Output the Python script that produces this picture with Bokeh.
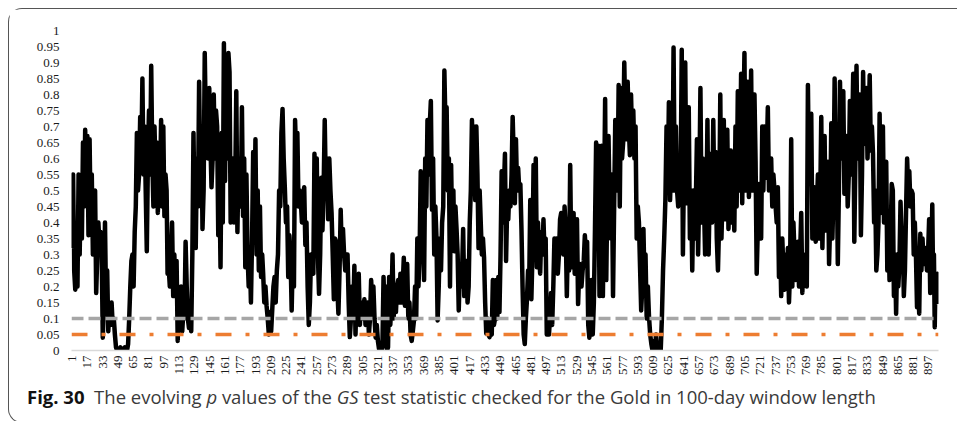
import numpy as np
from bokeh.plotting import figure
from bokeh.models import Span, FixedTicker, Div
from bokeh.layouts import column
from bokeh.embed import file_html
from bokeh.resources import INLINE

# ---- data: p values, grouped in blocks of days ----
block_start_days = [1, 101, 201, 301, 401, 501, 601, 701, 801, 901]
block_end_days = [100, 200, 300, 400, 500, 600, 700, 800, 900, 907]

p_days_001_100 = [0.32,0.55,0.25, 0.19,0.3,0.2, 0.55,0.3,0.52, 0.35,0.65,0.45, 0.69,0.55,0.67, 0.36,0.66,0.4,
    0.55,0.3,0.45, 0.5,0.18,0.3, 0.4,0.33,0.37, 0.3,0.04,0.15, 0.4,0.14,0.25, 0.06,0.14,0.08, 0.15,0.08,0.1,
    0.05,0.01,0.0, 0.0,0.0,0.01,0.0,0.0,0.0,0.01,0.0,0.0,0.02, 0.1,0.2,0.28, 0.3,0.2,0.37, 0.45,0.68,0.5,
    0.55,0.73,0.6, 0.85,0.55, 0.7,0.5, 0.31,0.6,0.75, 0.55,0.89,0.6, 0.45,0.7,0.55, 0.65,0.43,0.55,
    0.5,0.72,0.45, 0.7,0.42,0.55,0.5]
p_days_101_200 = [0.24, 0.26,0.2,0.3, 0.4,0.17,0.3,0.2, 0.28,0.03,0.15, 0.1,0.2,0.06,0.12, 0.1,0.34,0.2,
    0.1,0.07,0.12,0.06, 0.3,0.68,0.4, 0.32,0.6,0.45, 0.84,0.55,0.7, 0.38,0.5, 0.93,0.7,0.8, 0.6,0.82,0.65,
    0.51,0.6, 0.8,0.6,0.75, 0.7,0.36,0.55, 0.26,0.68,0.4, 0.96, 0.53,0.88,0.6,0.93, 0.87,0.4,0.6, 0.6,0.4,0.5,
    0.81,0.37,0.6, 0.5,0.45, 0.76,0.42,0.6, 0.26,0.55,0.3, 0.2,0.3,0.15, 0.35,0.62,0.4,0.66, 0.3,0.5,0.25,
    0.45,0.23,0.3]
p_days_201_300 = [0.24,0.15,0.2,0.14, 0.1,0.05,0.12, 0.06,0.13,0.2, 0.23,0.15,0.25, 0.3,0.5,0.45, 0.68,0.755,0.6,
    0.51,0.4,0.45, 0.23,0.36,0.3, 0.125,0.3,0.2, 0.72,0.6,0.68, 0.45,0.5,0.47, 0.4,0.48, 0.51,0.33,0.4,
    0.2,0.08,0.15, 0.3,0.25, 0.24,0.615,0.4, 0.6,0.3,0.177, 0.3,0.54,0.375,0.5, 0.72,0.5,0.6, 0.41,0.6,0.5,
    0.43,0.3,0.16,0.35, 0.34,0.2,0.115,0.25, 0.44,0.3,0.38, 0.3,0.25,0.3, 0.3,0.15,0.042,0.1, 0.2,0.12,
    0.265,0.05,0.2,0.1]
p_days_301_400 = [0.24,0.08,0.15, 0.1,0.12, 0.16,0.08,0.12, 0.15,0.05,0.1, 0.22,0.15,0.2, 0.1,0.04,0.08,0.03,
    0.005,0.02,0.0,0.01, 0.23,0.1,0.2, 0.0,0.01, 0.23,0.08,0.15, 0.3,0.1,0.2,0.12, 0.2,0.22,0.15,
    0.24,0.15,0.2,0.29, 0.14,0.2, 0.27,0.1,0.15, 0.05,0.03,0.06, 0.094,0.2,0.1, 0.35,0.2,0.3, 0.56,0.3,0.4,
    0.22,0.6,0.45, 0.72,0.55,0.7, 0.78,0.44,0.6, 0.3,0.45,0.35, 0.094,0.2, 0.35,0.25,0.4, 0.45,0.875,0.7,
    0.76,0.5,0.6, 0.2, 0.58,0.35,0.5]
p_days_401_500 = [0.31,0.45,0.38,0.3, 0.125, 0.25,0.2,0.24, 0.38,0.17,0.25, 0.28,0.15,0.2, 0.4,0.5, 0.72,0.6,0.7,
    0.47,0.7,0.55, 0.32,0.5,0.4, 0.3,0.35, 0.29,0.15,0.053,0.1, 0.05,0.042,0.06,0.05, 0.22,0.08,0.1, 0.22,0.1,
    0.23,0.12,0.3, 0.56,0.4,0.5, 0.615,0.28,0.45, 0.41,0.5,0.45, 0.55,0.73,0.6, 0.46,0.66,0.5, 0.57,0.5,0.52,
    0.38,0.2,0.05, 0.02,0.1, 0.16,0.25,0.2, 0.47,0.16,0.3, 0.58,0.45,0.6, 0.26,0.4,0.3, 0.24,0.37,0.3,
    0.41,0.3,0.35, 0.05,0.1,0.05]
p_days_501_600 = [0.1,0.18,0.08, 0.2,0.35,0.28, 0.35,0.24,0.3, 0.41,0.43,0.35, 0.3,0.45,0.38, 0.17,0.36,0.25,
    0.58,0.26,0.4, 0.43,0.24,0.35, 0.41,0.145,0.25, 0.27,0.2,0.25, 0.28,0.36,0.3,0.34, 0.08,0.04,0.1,
    0.22,0.05,0.15, 0.38,0.65,0.5, 0.64,0.17,0.4, 0.64,0.17,0.45, 0.786,0.22,0.5, 0.67,0.45,0.35,0.55,
    0.17,0.45,0.72, 0.64,0.5,0.83, 0.45,0.82,0.6, 0.65,0.9,0.7, 0.66,0.84,0.7, 0.61,0.8,0.65, 0.75,0.6,0.7,
    0.35,0.45,0.4, 0.26,0.125,0.2, 0.38,0.2]
p_days_601_700 = [0.3,0.1,0.2, 0.104,0.05,0.02, 0.0,0.03,0.0,0.05, 0.005,0.0,0.01,0.0, 0.1,0.25,0.35,0.47,
    0.7,0.5,0.776, 0.47,0.6,0.5, 0.947,0.5,0.7, 0.5,0.45,0.55,0.5, 0.94,0.3,0.6, 0.9,0.46,0.6, 0.76,0.35,0.5,
    0.25,0.5,0.35,0.45, 0.66,0.3,0.5, 0.82,0.4,0.6, 0.47,0.3,0.4, 0.72,0.3,0.5, 0.615,0.4,0.72,0.45,
    0.62,0.35,0.25,0.4, 0.8,0.35,0.5, 0.72,0.41,0.6, 0.69,0.38,0.5, 0.625,0.4,0.5, 0.375,0.7,0.45, 0.81,0.5,0.6]
p_days_701_800 = [0.865,0.46,0.7, 0.93,0.5,0.7, 0.84,0.48,0.6, 0.875,0.5,0.7, 0.8,0.59,0.24, 0.38,0.52,0.4,
    0.35,0.7,0.5, 0.7,0.54,0.6, 0.76,0.5,0.6, 0.6,0.45,0.55, 0.5,0.45,0.4, 0.51,0.23,0.35, 0.17,0.35,0.25,
    0.19,0.3,0.2, 0.32,0.15,0.25, 0.66,0.2,0.4, 0.3,0.22,0.25, 0.34,0.2,0.3, 0.43,0.18,0.3, 0.28,0.3,0.2,
    0.83,0.52,0.6, 0.74,0.35,0.5, 0.51,0.34,0.45, 0.55,0.35,0.45, 0.73,0.32,0.5, 0.67,0.375,0.55,
    0.59,0.27,0.4, 0.71,0.35,0.5, 0.85,0.5]
p_days_801_900 = [0.615,0.27,0.5, 0.84,0.6,0.7, 0.81,0.49,0.6, 0.67,0.45,0.55, 0.78,0.55,0.65, 0.865,0.34,0.6,
    0.89,0.6,0.75, 0.8,0.36,0.55, 0.87,0.645,0.75, 0.82,0.6,0.7, 0.86,0.625,0.7, 0.615,0.4,0.5, 0.25,0.3,0.4,
    0.74,0.43,0.6, 0.7,0.4,0.55, 0.59,0.25,0.4, 0.22,0.35,0.52, 0.5,0.17,0.3, 0.115,0.3,0.2, 0.27,0.465,0.35,
    0.38,0.17,0.25, 0.43,0.6,0.5, 0.56,0.45,0.5, 0.49,0.3,0.4, 0.3,0.135,0.2, 0.115,0.365,0.25, 0.35,0.27,0.3,
    0.32,0.25,0.3, 0.41,0.18,0.3]
p_days_901_907 = [0.456,0.2,0.3, 0.073,0.24,0.15, 0.24,0.145]

p_blocks = [p_days_001_100, p_days_101_200, p_days_201_300, p_days_301_400, p_days_401_500,
            p_days_501_600, p_days_601_700, p_days_701_800, p_days_801_900, p_days_901_907]

threshold_10 = 0.1
threshold_05 = 0.05

x_tick_days = list(range(1, 898, 16))
y_ticks = [0, 0.05, 0.1, 0.15, 0.2, 0.25, 0.3, 0.35, 0.4, 0.45, 0.5, 0.55, 0.6, 0.65, 0.7, 0.75,
           0.8, 0.85, 0.9, 0.95, 1]
y_tick_labels = ["0", "0.05", "0.1", "0.15", "0.2", "0.25", "0.3", "0.35", "0.4", "0.45", "0.5", "0.55",
                 "0.6", "0.65", "0.7", "0.75", "0.8", "0.85", "0.9", "0.95", "1"]

# ---- build series ----
days, vals = [], []
for s, e, b in zip(block_start_days, block_end_days, p_blocks):
    days.extend(np.linspace(s, e, len(b)).tolist())
    vals.extend(b)

p = figure(width=940, height=373, x_range=(0.5, 907.5), y_range=(0, 1),
           output_backend="svg", toolbar_location=None,
           min_border_left=62, min_border_right=11, min_border_top=21, min_border_bottom=32)
p.outline_line_color = None
p.background_fill_color = "white"
p.border_fill_color = "white"
p.grid.visible = False

p.add_layout(Span(location=threshold_10, dimension="width", line_color="#a6a6a6",
                  line_width=3.5, line_dash="12 5"))
p.add_layout(Span(location=threshold_05, dimension="width", line_color="#ed7d31",
                  line_width=3.5, line_dash="16 14 4 14"))
p.line(days, vals, line_color="black", line_width=4.5, line_join="round")

xa = p.xaxis[0]
xa.ticker = FixedTicker(ticks=x_tick_days)
xa.major_label_orientation = np.pi / 2
xa.major_tick_line_color = None
xa.minor_tick_line_color = None
xa.major_tick_out = 0
xa.major_tick_in = 0
xa.axis_line_color = "#d9d9d9"
xa.axis_line_width = 1.5
xa.major_label_standoff = 5
xa.major_label_text_font = "Liberation Serif"
xa.major_label_text_font_style = "normal"
xa.major_label_text_font_size = "13px"
xa.major_label_text_color = "#1a1a1a"

ya = p.yaxis[0]
ya.ticker = FixedTicker(ticks=y_ticks)
ya.major_label_overrides = {t: l for t, l in zip(y_ticks, y_tick_labels)}
ya.axis_line_color = None
ya.major_tick_line_color = None
ya.minor_tick_line_color = None
ya.major_tick_out = 0
ya.major_tick_in = 0
ya.major_label_standoff = 12
ya.major_label_text_font = "Liberation Serif"
ya.major_label_text_font_style = "normal"
ya.major_label_text_font_size = "13px"
ya.major_label_text_color = "#1a1a1a"

caption = Div(
    text='<b style="color:#111">Fig. 30</b>&nbsp;&nbsp;The evolving <i>p</i> values of the <i>GS</i> '
         'test statistic checked for the Gold in 100-day window length',
    width=940, height=30,
    styles={"font-family": "Open Sans", "font-size": "18.5px", "color": "#3a3a3a", "line-height": "20px",
            "padding-left": "13px", "padding-top": "0px", "white-space": "nowrap"})

layout = column(p, caption, styles={"margin-left": "8px", "margin-top": "8px",
                                    "border-left": "1px solid #555", "border-top": "1px solid #555",
                                    "border-bottom": "1px solid #555",
                                    "border-radius": "14px 0 0 14px"})

open("out.html", "w").write(file_html(layout, INLINE))
